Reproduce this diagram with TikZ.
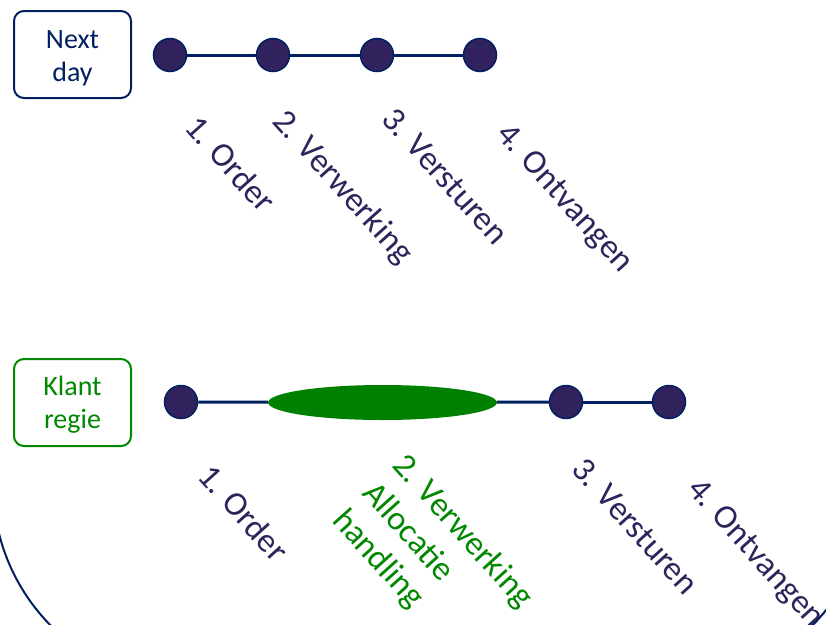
\documentclass[tikz,border=0pt]{standalone}
\usepackage{fontspec}
\setmainfont{Carlito}
\usetikzlibrary{shapes.geometric}
\definecolor{navy}{RGB}{0,32,96}
\definecolor{dotfill}{RGB}{49,34,94}
\definecolor{lbltext}{RGB}{46,36,92}
\definecolor{gfill}{RGB}{0,128,0}
\definecolor{gtext}{RGB}{0,136,0}
\begin{document}
\begin{tikzpicture}[x=1pt,y=-1pt,
  dot/.style={circle, fill=dotfill, draw=navy, line width=1.5pt, minimum size=33pt, inner sep=0pt},
  conn/.style={draw=navy, line width=3pt},
  lbl/.style={text=lbltext, font=\fontsize{34}{41}\selectfont, rotate=-48, anchor=base west, inner sep=0pt},
  glbl/.style={lbl, text=gtext},
  catbox/.style={rounded corners=10pt, line width=2pt, minimum width=117pt, minimum height=87pt, inner sep=0pt},
  cattext/.style={align=center, font=\fontsize{28}{33}\selectfont, inner sep=0pt},
  frame/.style={draw=navy, line width=2pt}]
\useasboundingbox (0,0) rectangle (826,624);

% top row
\node[catbox, draw=navy] (nd) at (72.5,54.5) {};
\node[cattext, text=navy] (ndt) at (72.5,58) {Next\\day};
\node[dot] (a1) at (170,55) {};
\node[dot] (a2) at (273,55) {};
\node[dot] (a3) at (377,55) {};
\node[dot] (a4) at (480,55) {};
\draw[conn] (a1) -- (a2);
\draw[conn] (a2) -- (a3);
\draw[conn] (a3) -- (a4);
\node[lbl] (t1) at (183,128) {1. Order};
\node[lbl] (t2) at (271,122) {2. Verwerking};
\node[lbl] (t3) at (380,120) {3. Versturen};
\node[lbl] (t4) at (495,135) {4. Ontvangen};

% bottom row
\node[catbox, draw=gtext] (kr) at (72.5,402.5) {};
\node[cattext, text=gtext] (krt) at (72.5,405) {Klant\\regie};
\node[dot] (b1) at (181,402) {};
\node[ellipse, fill=gfill, minimum width=229pt, minimum height=35pt, inner sep=0pt] (be) at (382.5,402.5) {};
\node[dot] (b3) at (566,402) {};
\node[dot] (b4) at (669,402) {};
\draw[conn] (b1) -- (be);
\draw[conn] (be) -- (b3);
\draw[conn] (b3) -- (b4);
\node[lbl] (u1) at (196,477) {1. Order};
\node[glbl] (u2) at (391,466) {2. Verwerking};
\node[glbl] (u2b) at (361,494) {Allocatie};
\node[glbl] (u2c) at (331,521) {handling};
\node[lbl] (u3) at (570,470) {3. Versturen};
\node[lbl] (u4) at (686,490) {4. Ontvangen};

% large frame, cut by the picture edge
\begin{scope}
\clip (0,0) rectangle (826,624);
\draw[frame] (193,485) ++(175:200) arc[start angle=175, end angle=120, radius=200];
\draw[frame] (670,485) ++(15:200) arc[start angle=15, end angle=65, radius=200];
\end{scope}
\end{tikzpicture}
\end{document}
